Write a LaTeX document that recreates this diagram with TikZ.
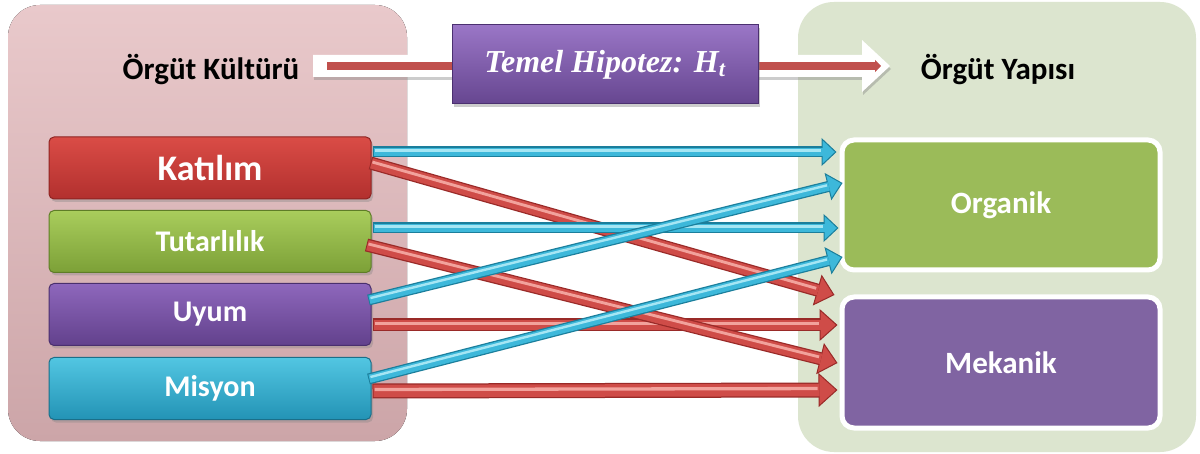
\documentclass[tikz,border=0pt]{standalone}
\usepackage{fontspec}
\setmainfont{Carlito}
\newfontfamily\tnr{Liberation Serif}
\usetikzlibrary{arrows.meta,calc,shadows}
\definecolor{pTop}{HTML}{E9C9CB}
\definecolor{pBot}{HTML}{CCA5A8}
\definecolor{gPan}{HTML}{DCE5CF}
\definecolor{bdark}{HTML}{1B7E9B}
\definecolor{bmain}{HTML}{3DB8DA}
\definecolor{blight}{HTML}{A5E6F4}
\definecolor{rdark}{HTML}{992A28}
\definecolor{rmain}{HTML}{CF4C48}
\definecolor{rlight}{HTML}{F2A29C}
\definecolor{redT}{HTML}{DA4C46}
\definecolor{redB}{HTML}{B2302E}
\definecolor{redD}{HTML}{8E2422}
\definecolor{grnT}{HTML}{A9CD5C}
\definecolor{grnB}{HTML}{7CA037}
\definecolor{grnD}{HTML}{5E7D27}
\definecolor{purT}{HTML}{8E67BC}
\definecolor{purB}{HTML}{62418C}
\definecolor{purD}{HTML}{4A2F6E}
\definecolor{cyaT}{HTML}{52C6E2}
\definecolor{cyaB}{HTML}{2393B5}
\definecolor{cyaD}{HTML}{1A6F89}
\definecolor{orgF}{HTML}{9BBB59}
\definecolor{mekF}{HTML}{8064A2}
\definecolor{hypT}{HTML}{9A76C6}
\definecolor{hypB}{HTML}{664690}
\definecolor{hypD}{HTML}{4B3070}
\definecolor{arrRed}{HTML}{C0504D}
\tikzset{
  lbox/.style={rectangle, rounded corners=5pt, minimum width=322pt, minimum height=62pt,
    inner sep=0pt, text=white, line width=1pt,
    font=\bfseries\fontsize{30}{36}\selectfont,
    drop shadow={opacity=0.35, shadow xshift=2pt, shadow yshift=-3pt}},
  rbox/.style={rectangle, rounded corners=12pt, minimum width=318pt, minimum height=130pt,
    inner sep=0pt, text=white, draw=white, line width=5pt,
    font=\bfseries\fontsize{31}{37}\selectfont},
  title/.style={font=\bfseries\fontsize{31}{37}\selectfont, text=black, inner sep=0pt}
}
\newcommand\mytube[6]{%
  \draw[#1dark, line width=#2, -{Triangle[length=#3,width=#4,line width=1pt,fill=#1main,color=#1dark]}] #5 -- #6;
  \draw[#1main, line width=#2-2.5pt, shorten >=#3-1pt, shorten <=1pt] #5 -- #6;
  \draw[#1light, line width=#2*0.22, shorten >=#3+1pt, shorten <=2pt, transform canvas={yshift=1.5pt}] #5 -- #6;
}
\begin{document}
\begin{tikzpicture}[x=1pt,y=-1pt]
\useasboundingbox (0,0) rectangle (1200,454);
\fill[white] (0,0) rectangle (1200,454);
% panels
\fill[rounded corners=32pt, top color=pTop, bottom color=pBot] (8,5) rectangle (407,441);
\fill[rounded corners=36pt, gPan] (798,2) rectangle (1196,452);
% titles
\node[title] (kultur) at (211,70) {Örgüt Kültürü};
\node[title] (yapi) at (998,70) {Örgüt Yapısı};
% top block arrow
\fill[white, drop shadow={opacity=0.4, shadow xshift=1pt, shadow yshift=-3pt}]
  (313,55) -- (862,55) -- (862,40) -- (890,66) -- (862,92) -- (862,77) -- (313,77) -- cycle;
\draw[arrRed, line width=8pt, -{Triangle[length=6pt,width=12pt]}] (327,66) -- (881,66);
% hypothesis box
\node[rectangle, minimum width=306pt, minimum height=79pt, inner sep=0pt,
  top color=hypT, bottom color=hypB, draw=hypD, line width=1pt,
  drop shadow={opacity=0.4, shadow xshift=2pt, shadow yshift=-3pt},
  text=white, font=\tnr\bfseries\itshape\fontsize{32}{38}\selectfont]
  (hyp) at (605,64.5) {Temel Hipotez: H\textsubscript{t}};
% left boxes
\node[lbox, top color=redT, bottom color=redB, draw=redD, font=\bfseries\fontsize{36}{40}\selectfont] (katilim) at (210,168) {Katılım};
\node[lbox, top color=grnT, bottom color=grnB, draw=grnD] (tutar) at (210,241.5) {Tutarlılık};
\node[lbox, top color=purT, bottom color=purB, draw=purD] (uyum) at (210,314.5) {Uyum};
\node[lbox, top color=cyaT, bottom color=cyaB, draw=cyaD] (misyon) at (210,388.5) {Misyon};
% right boxes
\node[rbox, fill=orgF] (organik) at (1001,205) {Organik};
\node[rbox, fill=mekF, minimum height=131pt] (mekanik) at (1001,362.5) {Mekanik};
% red arrows
\mytube{r}{13pt}{18pt}{32pt}{($(katilim.east)+(-1,-5)$)}{($(mekanik.west)+(-5,-67.5)$)}
\mytube{r}{13pt}{18pt}{32pt}{($(uyum.east)+(1,10.5)$)}{($(mekanik.west)+(-2,-37.5)$)}
\mytube{r}{13pt}{18pt}{32pt}{($(tutar.east)+(-5,3.5)$)}{($(mekanik.west)+(-2,0.5)$)}
\mytube{r}{15pt}{19pt}{34pt}{($(misyon.east)+(1,2.5)$)}{($(mekanik.west)+(-2,27.5)$)}
% blue arrows
\mytube{b}{11pt}{15pt}{28pt}{($(katilim.east)+(1,-16)$)}{($(organik.west)+(-3,-53)$)}
\mytube{b}{11pt}{15pt}{28pt}{($(tutar.east)+(1,-13.5)$)}{($(organik.west)+(-1,23)$)}
\mytube{b}{11pt}{15pt}{28pt}{($(uyum.east)+(-3,-14.5)$)}{($(organik.west)+(3,-22)$)}
\mytube{b}{11pt}{15pt}{28pt}{($(misyon.east)+(-3,-9.5)$)}{($(organik.west)+(3,52)$)}
\end{tikzpicture}
\end{document}
